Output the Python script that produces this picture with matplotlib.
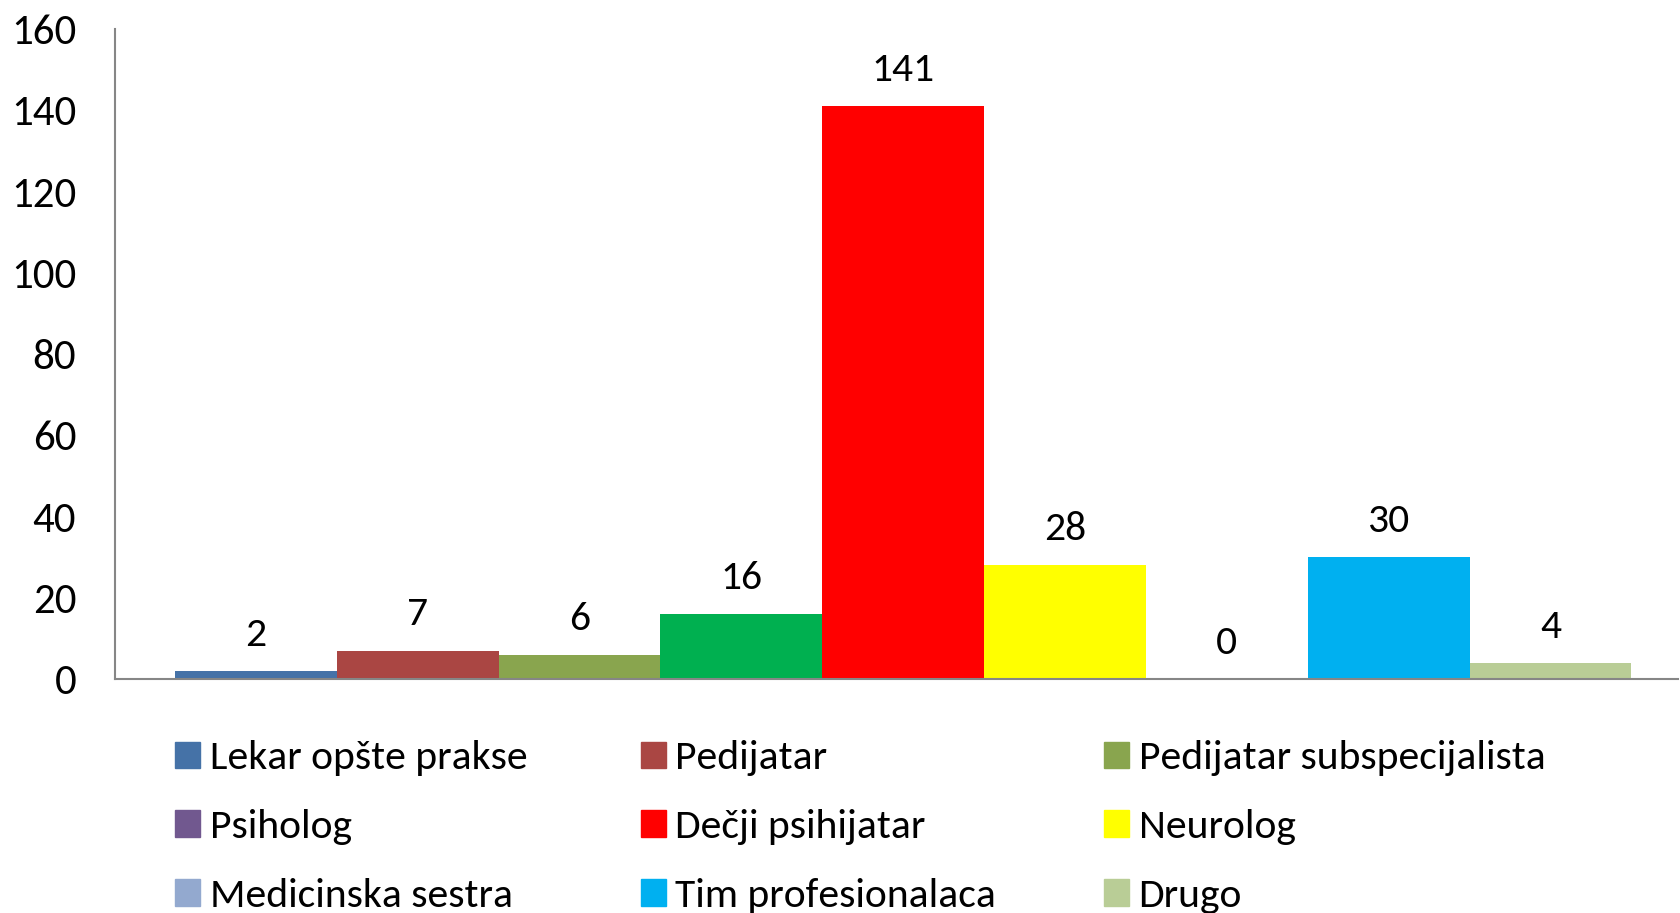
import matplotlib
matplotlib.use("Agg")
from matplotlib import pyplot as plt
from matplotlib.patches import Patch

plt.rcParams['font.family'] = ['Carlito', 'Liberation Sans Narrow', 'Open Sans', 'DejaVu Sans']

categories = ["Lekar opšte prakse", "Pedijatar", "Pedijatar subspecijalista",
              "Psiholog", "Dečji psihijatar", "Neurolog",
              "Medicinska sestra", "Tim profesionalaca", "Drugo"]
values = [2, 7, 6, 16, 141, 28, 0, 30, 4]
bar_colors = ["#4572A7", "#AA4643", "#89A54E", "#00B050", "#FF0000",
              "#FFFF00", "#93A9CF", "#00B0F0", "#B9CD96"]
legend_colors = ["#4572A7", "#AA4643", "#89A54E", "#71588F", "#FF0000",
                 "#FFFF00", "#93A9CF", "#00B0F0", "#B9CD96"]
yticks = [0, 20, 40, 60, 80, 100, 120, 140, 160]

fig = plt.figure(figsize=(16.8, 9.13), dpi=100)
ax = fig.add_axes([0.0685, 0.2563, 0.9305, 0.7117])

xs = list(range(len(values)))
ax.bar(xs, values, width=1.0, color=bar_colors)
for x, v in zip(xs, values):
    ax.annotate(str(v), (x, v), xytext=(0, 26), textcoords="offset points",
                ha="center", va="center", fontsize=30)

ax.set_xlim(-0.87, 8.79)
ax.set_ylim(0, 160)
ax.set_yticks(yticks)
ax.set_xticks([])
ax.tick_params(axis="y", length=0, pad=28, labelsize=31)
for s in ["top", "right"]:
    ax.spines[s].set_visible(False)
for s in ["left", "bottom"]:
    ax.spines[s].set_color("#868686")
    ax.spines[s].set_linewidth(1.5)

# legend in three columns
col_x = [0.1044, 0.3814, 0.6574]
for c in range(3):
    idx = [r * 3 + c for r in range(3)]
    handles = [Patch(color=legend_colors[i]) for i in idx]
    labels = [categories[i] for i in idx]
    fig.legend(handles, labels, loc="upper left", bbox_to_anchor=(col_x[c], 0.189),
               frameon=False, fontsize=30, handlelength=0.6, handleheight=0.6,
               handletextpad=0.22, labelspacing=0.79, borderpad=0, borderaxespad=0)

fig.savefig("out.png", dpi=100)
